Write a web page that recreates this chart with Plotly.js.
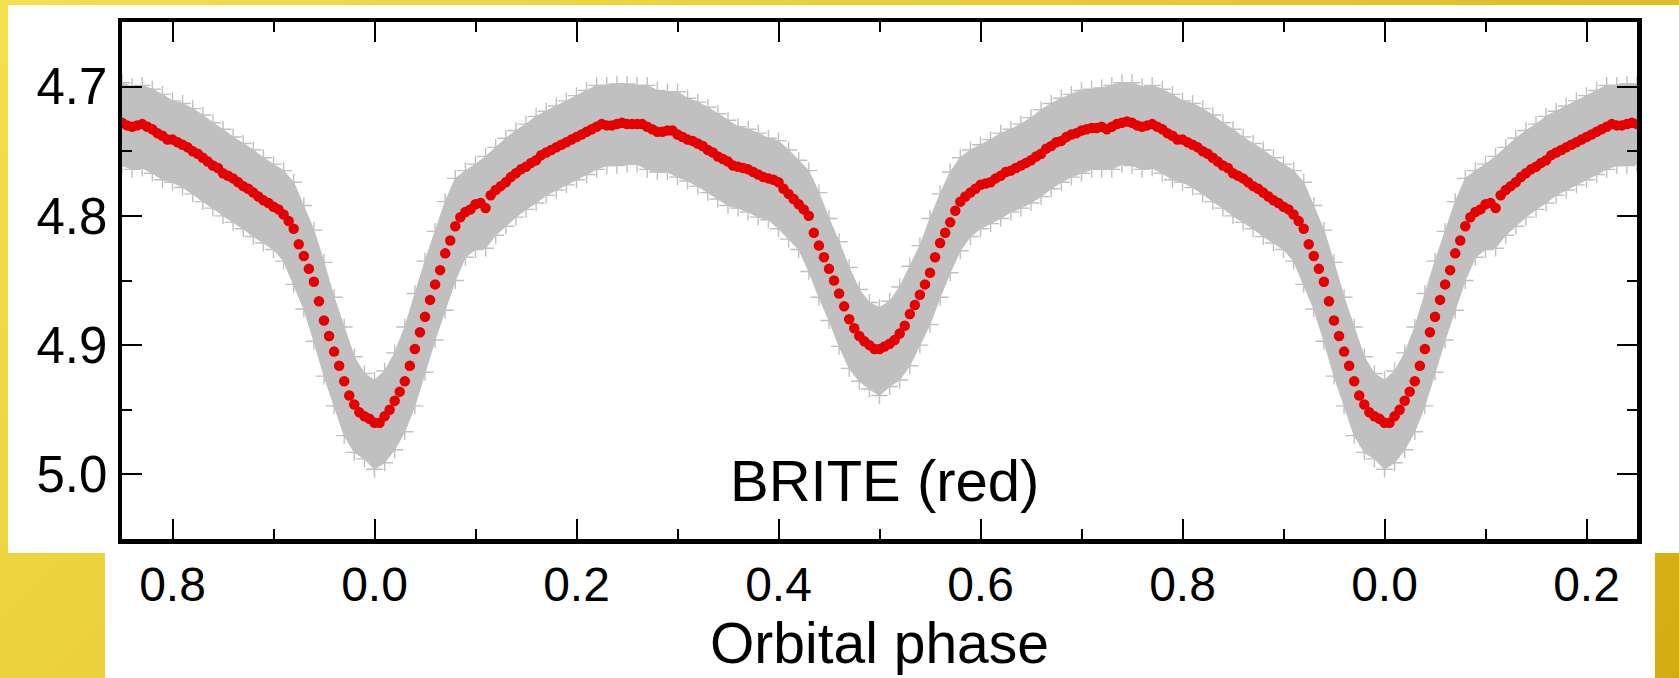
<!DOCTYPE html>
<html>
<head>
<meta charset="utf-8">
<script src="https://cdn.plot.ly/plotly-3.0.1.min.js"></script>
<style>
  html, body { margin: 0; padding: 0; }
  body {
    width: 1679px; height: 678px; overflow: hidden; position: relative;
    background: linear-gradient(135deg, #f4df4e 0%, #e8cb34 45%, #d2ad12 100%);
  }
  #w1 { position: absolute; left: 8px; top: 5px; width: 1671px; height: 548px; background: #ffffff; }
  #w2 { position: absolute; left: 105px; top: 553px; width: 1550px; height: 125px; background: #ffffff; }
  #plot { position: absolute; left: 0; top: 0; width: 1679px; height: 678px; }
</style>
</head>
<body>
<div id="w1"></div>
<div id="w2"></div>
<div id="plot"></div>
<script>
// ---- Binned (red) light curve, one orbital cycle, phase bins of 0.005 ----
const PHASE_RED = [
  0.000,0.005,0.010,0.015,0.020,0.025,0.030,0.035,0.040,0.045,
  0.050,0.055,0.060,0.065,0.070,0.075,0.080,0.085,0.090,0.095,
  0.100,0.105,0.110,0.115,0.120,0.125,0.130,0.135,0.140,0.145,
  0.150,0.155,0.160,0.165,0.170,0.175,0.180,0.185,0.190,0.195,
  0.200,0.205,0.210,0.215,0.220,0.225,0.230,0.235,0.240,0.245,
  0.250,0.255,0.260,0.265,0.270,0.275,0.280,0.285,0.290,0.295,
  0.300,0.305,0.310,0.315,0.320,0.325,0.330,0.335,0.340,0.345,
  0.350,0.355,0.360,0.365,0.370,0.375,0.380,0.385,0.390,0.395,
  0.400,0.405,0.410,0.415,0.420,0.425,0.430,0.435,0.440,0.445,
  0.450,0.455,0.460,0.465,0.470,0.475,0.480,0.485,0.490,0.495,
  0.500,0.505,0.510,0.515,0.520,0.525,0.530,0.535,0.540,0.545,
  0.550,0.555,0.560,0.565,0.570,0.575,0.580,0.585,0.590,0.595,
  0.600,0.605,0.610,0.615,0.620,0.625,0.630,0.635,0.640,0.645,
  0.650,0.655,0.660,0.665,0.670,0.675,0.680,0.685,0.690,0.695,
  0.700,0.705,0.710,0.715,0.720,0.725,0.730,0.735,0.740,0.745,
  0.750,0.755,0.760,0.765,0.770,0.775,0.780,0.785,0.790,0.795,
  0.800,0.805,0.810,0.815,0.820,0.825,0.830,0.835,0.840,0.845,
  0.850,0.855,0.860,0.865,0.870,0.875,0.880,0.885,0.890,0.895,
  0.900,0.905,0.910,0.915,0.920,0.925,0.930,0.935,0.940,0.945,
  0.950,0.955,0.960,0.965,0.970,0.975,0.980,0.985,0.990,0.995
];
const MAG_RED = [
  4.960,4.960,4.955,4.950,4.943,4.936,4.928,4.916,4.903,4.890,
  4.878,4.865,4.853,4.842,4.829,4.819,4.808,4.801,4.797,4.795,
  4.791,4.790,4.794,4.784,4.780,4.777,4.774,4.770,4.767,4.764,
  4.762,4.759,4.757,4.753,4.751,4.749,4.747,4.745,4.743,4.741,
  4.739,4.737,4.735,4.733,4.731,4.729,4.730,4.730,4.729,4.728,
  4.729,4.729,4.729,4.729,4.731,4.733,4.735,4.735,4.734,4.734,
  4.737,4.739,4.741,4.742,4.744,4.746,4.749,4.751,4.754,4.756,
  4.758,4.761,4.762,4.763,4.764,4.766,4.768,4.770,4.771,4.772,
  4.774,4.779,4.783,4.787,4.791,4.795,4.800,4.813,4.823,4.832,
  4.841,4.850,4.860,4.870,4.880,4.887,4.893,4.897,4.900,4.903,
  4.903,4.901,4.899,4.896,4.891,4.885,4.876,4.869,4.861,4.853,
  4.844,4.832,4.821,4.813,4.805,4.796,4.789,4.785,4.782,4.779,
  4.776,4.775,4.774,4.771,4.769,4.766,4.765,4.763,4.761,4.759,
  4.757,4.754,4.752,4.748,4.746,4.743,4.742,4.739,4.737,4.736,
  4.734,4.733,4.732,4.732,4.731,4.733,4.731,4.729,4.728,4.727,
  4.728,4.730,4.731,4.730,4.729,4.731,4.733,4.736,4.738,4.741,
  4.741,4.743,4.745,4.747,4.750,4.752,4.755,4.758,4.761,4.763,
  4.767,4.769,4.771,4.774,4.777,4.779,4.782,4.785,4.788,4.790,
  4.793,4.795,4.799,4.804,4.810,4.822,4.831,4.841,4.851,4.866,
  4.881,4.893,4.905,4.916,4.928,4.939,4.946,4.952,4.955,4.957
];

// ---- Extent of the grey individual measurements (upper / lower edge), phase step 0.01 ----
const PHASE_RAW = [
  0.00,0.01,0.02,0.03,0.04,0.05,0.06,0.07,0.08,0.09,
  0.10,0.11,0.12,0.13,0.14,0.15,0.16,0.17,0.18,0.19,
  0.20,0.21,0.22,0.23,0.24,0.25,0.26,0.27,0.28,0.29,
  0.30,0.31,0.32,0.33,0.34,0.35,0.36,0.37,0.38,0.39,
  0.40,0.41,0.42,0.43,0.44,0.45,0.46,0.47,0.48,0.49,
  0.50,0.51,0.52,0.53,0.54,0.55,0.56,0.57,0.58,0.59,
  0.60,0.61,0.62,0.63,0.64,0.65,0.66,0.67,0.68,0.69,
  0.70,0.71,0.72,0.73,0.74,0.75,0.76,0.77,0.78,0.79,
  0.80,0.81,0.82,0.83,0.84,0.85,0.86,0.87,0.88,0.89,
  0.90,0.91,0.92,0.93,0.94,0.95,0.96,0.97,0.98,0.99
];
const MAG_RAW_UPPER = [
  4.927,4.920,4.906,4.886,4.860,4.835,4.812,4.789,4.771,4.765,
  4.760,4.754,4.747,4.740,4.734,4.729,4.723,4.719,4.715,4.711,
  4.707,4.703,4.699,4.699,4.698,4.698,4.699,4.699,4.703,4.704,
  4.704,4.709,4.712,4.716,4.721,4.726,4.731,4.733,4.736,4.740,
  4.742,4.749,4.757,4.765,4.782,4.802,4.820,4.840,4.857,4.867,
  4.871,4.866,4.855,4.839,4.823,4.802,4.783,4.766,4.755,4.749,
  4.745,4.741,4.736,4.733,4.729,4.724,4.718,4.713,4.709,4.706,
  4.703,4.702,4.701,4.699,4.697,4.697,4.700,4.699,4.702,4.706,
  4.711,4.713,4.717,4.722,4.728,4.733,4.739,4.744,4.749,4.755,
  4.760,4.765,4.774,4.792,4.811,4.836,4.863,4.886,4.909,4.922
];
const MAG_RAW_LOWER = [
  4.996,4.991,4.981,4.967,4.947,4.921,4.896,4.873,4.850,4.832,
  4.826,4.825,4.815,4.808,4.801,4.795,4.790,4.784,4.780,4.776,
  4.772,4.768,4.764,4.761,4.761,4.760,4.760,4.764,4.766,4.766,
  4.770,4.773,4.777,4.782,4.787,4.792,4.794,4.797,4.801,4.803,
  4.810,4.818,4.826,4.843,4.863,4.881,4.901,4.918,4.928,4.934,
  4.939,4.932,4.927,4.916,4.900,4.884,4.863,4.844,4.827,4.816,
  4.810,4.806,4.802,4.797,4.794,4.790,4.785,4.779,4.774,4.770,
  4.767,4.764,4.764,4.764,4.760,4.761,4.764,4.763,4.767,4.772,
  4.774,4.778,4.783,4.789,4.794,4.800,4.805,4.810,4.816,4.821,
  4.826,4.835,4.853,4.872,4.897,4.924,4.947,4.970,4.983,4.988
];

// ---- Axis ticks ----
const X_TICK_VALS = [0.8, 1.0, 1.2, 1.4, 1.6, 1.8, 2.0, 2.2];
const X_TICK_TEXT = ['0.8', '0.0', '0.2', '0.4', '0.6', '0.8', '0.0', '0.2'];
const Y_TICK_VALS = [4.7, 4.8, 4.9, 5.0];
const Y_TICK_TEXT = ['4.7', '4.8', '4.9', '5.0'];
const LABEL_TEXT = 'BRITE (red)';
const X_TITLE = 'Orbital phase';

// The phase-folded curve is shown repeated over successive cycles
const X_MIN = 0.75, X_MAX = 2.25;
function unfold(ph, vals) {
  const xs = [], ys = [];
  for (let k = 0; k <= 2; k++) {
    for (let i = 0; i < ph.length; i++) {
      const x = ph[i] + k;
      if (x >= X_MIN - 0.012 && x <= X_MAX + 0.012) { xs.push(x); ys.push(vals[i]); }
    }
  }
  return [xs, ys];
}
const [xu, yu] = unfold(PHASE_RAW, MAG_RAW_UPPER);
const [xl, yl] = unfold(PHASE_RAW, MAG_RAW_LOWER);
const [xr, yr] = unfold(PHASE_RED, MAG_RED);

const GREY = '#c0c0c0';
const FONT = 'Liberation Sans, Arial, Helvetica, sans-serif';

const crossMarker = { symbol: 'cross-thin', size: 12, color: GREY, line: { color: GREY, width: 1.4 } };

const traces = [
  { type: 'scatter', mode: 'lines+markers', x: xu, y: yu, line: { color: GREY, width: 1 },
    marker: crossMarker, hoverinfo: 'skip' },
  { type: 'scatter', mode: 'lines+markers', x: xl, y: yl, line: { color: GREY, width: 1 },
    marker: crossMarker, fill: 'tonexty', fillcolor: GREY, hoverinfo: 'skip' },
  { type: 'scatter', mode: 'markers', x: xr, y: yr,
    marker: { size: 10.5, color: '#e60000', line: { width: 0 } } }
];

const axisCommon = {
  showline: true, linewidth: 4.5, linecolor: '#000',
  mirror: 'allticks', ticks: 'inside', ticklen: 20, tickwidth: 2, tickcolor: '#000',
  showgrid: false, zeroline: false, tickmode: 'array'
};

const layout = {
  width: 1679, height: 678,
  margin: { l: 122, r: 42, t: 22, b: 139, pad: 0 },
  paper_bgcolor: 'rgba(0,0,0,0)', plot_bgcolor: '#ffffff',
  showlegend: false,
  font: { family: FONT, color: '#000' },
  xaxis: Object.assign({}, axisCommon, {
    range: [X_MIN, X_MAX],
    tickvals: X_TICK_VALS, ticktext: X_TICK_TEXT,
    tickfont: { family: FONT, size: 48, color: '#000' },
    minor: { ticks: 'inside', ticklen: 10, tickwidth: 2, tickcolor: '#000', tickmode: 'linear', tick0: 0.7, dtick: 0.2, showgrid: false },
    title: { text: X_TITLE, font: { family: FONT, size: 57, color: '#000' }, standoff: 8 }
  }),
  yaxis: Object.assign({}, axisCommon, {
    range: [5.05, 4.65],
    tickvals: Y_TICK_VALS, ticktext: Y_TICK_TEXT,
    tickfont: { family: FONT, size: 51, color: '#000' },
    minor: { ticks: 'inside', ticklen: 10, tickwidth: 2, tickcolor: '#000', tickmode: 'linear', tick0: 4.75, dtick: 0.1, showgrid: false }
  }),
  annotations: [{
    text: LABEL_TEXT, xref: 'x', yref: 'y', x: 1.505, y: 5.005,
    xanchor: 'center', yanchor: 'middle', showarrow: false,
    font: { family: FONT, size: 58, color: '#000' }
  }]
};

Plotly.newPlot('plot', traces, layout, { staticPlot: true, displayModeBar: false });
</script>
</body>
</html>
